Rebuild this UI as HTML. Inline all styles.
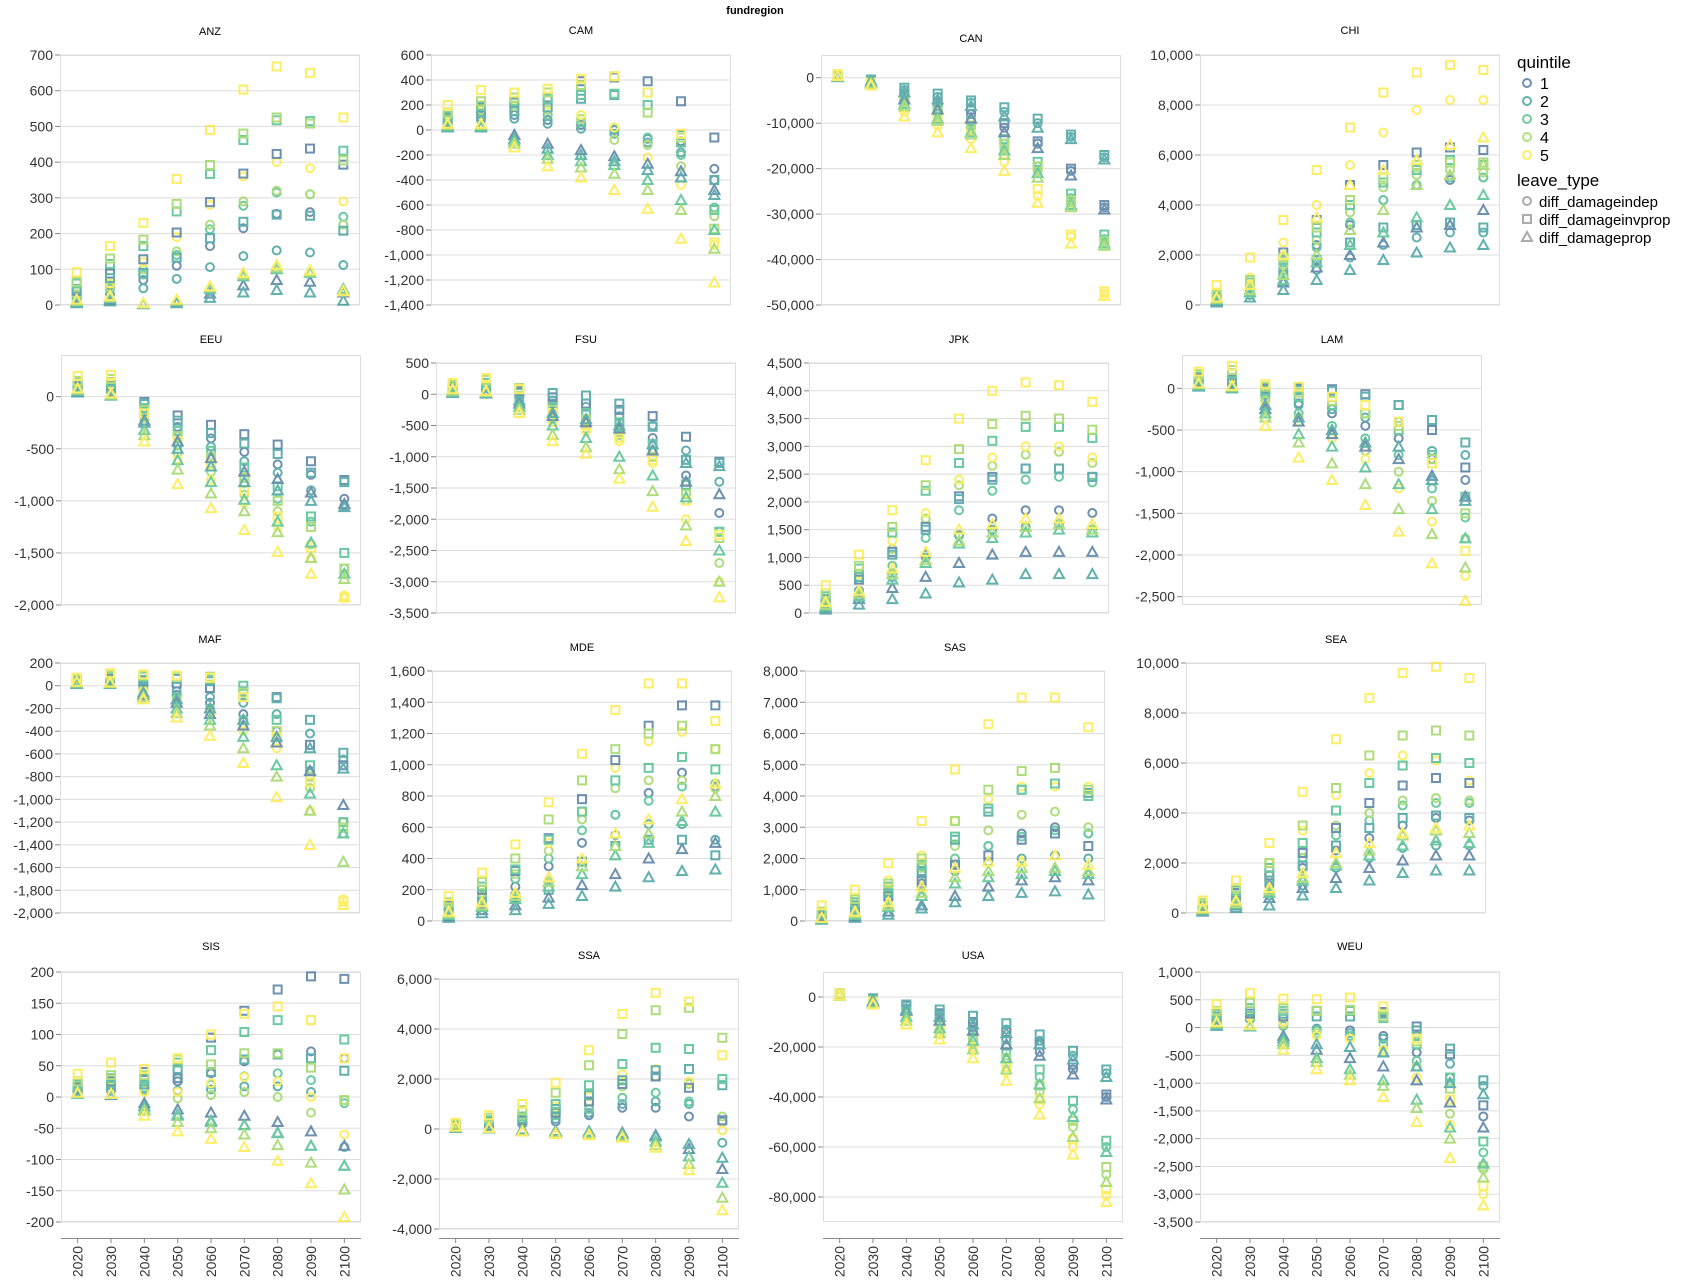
<!DOCTYPE html>
<html><head><meta charset="utf-8"><style>
html,body{margin:0;padding:0;background:#fff;}
svg{display:block;font-family:"Liberation Sans","DejaVu Sans",sans-serif;}
</style></head><body>
<svg id="chart" width="1686" height="1286" viewBox="0 0 1686 1286">
<text x="755" y="14" text-anchor="middle" font-size="11" font-weight="bold" fill="#000">fundregion</text>
<g id="panels"></g>
<g>
<text x="1517" y="68" font-size="17" fill="#000">quintile</text>
<g><circle cx="1527" cy="83" r="4" fill="none" stroke="#30638e" stroke-width="2" opacity="0.7"/><text x="1540" y="89" font-size="16" fill="#000">1</text></g>
<g><circle cx="1527" cy="101" r="4" fill="none" stroke="#21918c" stroke-width="2" opacity="0.7"/><text x="1540" y="107" font-size="16" fill="#000">2</text></g>
<g><circle cx="1527" cy="119" r="4" fill="none" stroke="#35b779" stroke-width="2" opacity="0.7"/><text x="1540" y="125" font-size="16" fill="#000">3</text></g>
<g><circle cx="1527" cy="137" r="4" fill="none" stroke="#90d743" stroke-width="2" opacity="0.7"/><text x="1540" y="143" font-size="16" fill="#000">4</text></g>
<g><circle cx="1527" cy="155" r="4" fill="none" stroke="#fde725" stroke-width="2" opacity="0.7"/><text x="1540" y="161" font-size="16" fill="#000">5</text></g>
<text x="1517" y="186" font-size="17" fill="#000">leave_type</text>
<g><circle cx="1527" cy="201" r="4" fill="none" stroke="#888" stroke-width="2" opacity="0.7"/><text x="1539" y="207" font-size="15" fill="#000">diff_damageindep</text></g>
<g><rect x="1523" y="215" width="8" height="8" fill="none" stroke="#888" stroke-width="2" opacity="0.7"/><text x="1539" y="225" font-size="15" fill="#000">diff_damageinvprop</text></g>
<g><path d="M1527,232 L1532,241 L1522,241 Z" fill="none" stroke="#888" stroke-width="2" opacity="0.7"/><text x="1539" y="243" font-size="15" fill="#000">diff_damageprop</text></g>
</g>
</svg>
<script>
const years = [2020,2030,2040,2050,2060,2070,2080,2090,2100];
const quintiles = [1,2,3,4,5];
const leaveTypes = ["diff_damageindep","diff_damageinvprop","diff_damageprop"];
const regions = ["ANZ","CAM","CAN","CHI","EEU","FSU","JPK","LAM","MAF","MDE","SAS","SEA","SIS","SSA","USA","WEU"];

const ANZ_indep=[[20,55,70,110,165,215,255,260,225],[15,30,47,73,106,137,153,147,112],[25,45,85,140,212,278,315,310,247],[30,50,100,150,225,290,320,310,225],[40,60,120,190,280,360,400,383,290]];
const ANZ_invprop=[[40,88,128,203,288,368,423,438,393],[45,75,90,133,187,233,253,250,208],[60,115,165,262,367,462,517,515,432],[65,130,183,283,392,480,525,508,405],[92,165,230,353,490,603,668,650,525]];
const ANZ_prop=[[8,15,3,10,32,55,70,65,35],[5,10,2,5,20,35,42,35,12],[10,20,5,12,45,80,100,90,45],[12,22,5,13,50,85,105,93,42],[15,25,5,15,52,90,112,97,38]];

const CAM_indep=[[60,100,120,80,40,0,-70,-90,-310],[40,80,90,50,10,-30,-100,-180,-400],[70,130,150,120,60,10,-60,-200,-620],[90,160,190,160,90,-80,-120,-290,-690],[120,200,230,200,120,20,-220,-440,-920]];
const CAM_invprop=[[100,180,220,260,390,420,390,230,-60],[80,130,150,180,250,280,300,-40,-400],[110,190,230,250,280,290,200,-100,-640],[140,230,260,300,360,430,140,-60,-790],[200,320,300,330,410,430,300,-30,-900]];
const CAM_prop=[[30,30,-40,-110,-160,-210,-270,-330,-480],[20,20,-70,-150,-200,-250,-320,-380,-520],[30,30,-90,-200,-250,-280,-400,-560,-800],[40,40,-110,-230,-300,-350,-480,-640,-950],[50,50,-140,-290,-380,-480,-630,-870,-1220]];

const CAN_indep=[[300,-900,-4200,-6200,-8000,-11000,-14500,-20500,-28500],[200,-500,-2700,-4200,-5500,-7500,-10000,-13000,-17500],[400,-1000,-5000,-8000,-10500,-14500,-19500,-26500,-35500],[400,-1100,-5500,-8500,-11500,-15500,-20500,-27500,-36500],[600,-1400,-7500,-10500,-13500,-18500,-26000,-35000,-47500]];
const CAN_invprop=[[400,-700,-3500,-5500,-7000,-10000,-14000,-20000,-28000],[300,-400,-2200,-3500,-5000,-6500,-9000,-12500,-17000],[500,-900,-4500,-7000,-9500,-13500,-18500,-25500,-34500],[600,-1000,-5000,-7500,-10500,-14500,-19500,-27000,-36000],[800,-1200,-6500,-9500,-12500,-17000,-24500,-34500,-47000]];
const CAN_prop=[[200,-1100,-4800,-7000,-9000,-12000,-15500,-21500,-29000],[100,-700,-3200,-4800,-6200,-8500,-11000,-13500,-18000],[300,-1200,-5800,-9000,-12000,-16000,-21000,-28000,-36500],[300,-1300,-6300,-9500,-12500,-17000,-22000,-28500,-37000],[400,-1700,-8500,-12000,-15500,-20500,-27500,-36500,-48000]];

const CHI_indep=[[200,700,1500,2400,3200,4200,4800,5000,5100],[150,400,900,1400,1900,2400,2700,2900,2900],[250,700,1400,2300,3300,4200,4800,5100,5100],[300,800,1600,2600,3700,4700,5200,5400,5300],[500,1100,2500,4000,5600,6900,7800,8200,8200]];
const CHI_invprop=[[300,1000,2100,3400,4800,5600,6100,6300,6200],[250,600,1200,1800,2500,3100,3200,3300,3100],[350,900,1800,2900,4000,4900,5400,5800,5600],[400,1000,1900,3100,4200,5100,5600,5700,5700],[800,1900,3400,5400,7100,8500,9300,9600,9400]];
const CHI_prop=[[150,500,900,1500,2000,2500,3100,3200,3800],[100,300,600,1000,1400,1800,2100,2300,2400],[200,500,1000,1700,2400,2900,3500,4000,4400],[250,600,1200,2000,3000,3800,4800,5200,5600],[300,800,2000,3500,4800,5400,5800,6400,6700]];

const EEU_indep=[[80,70,-110,-290,-400,-530,-650,-750,-980],[60,50,-150,-380,-480,-620,-730,-900,-1050],[100,80,-200,-470,-640,-830,-980,-1200,-1650],[110,100,-230,-540,-720,-940,-1100,-1420,-1700],[140,120,-270,-600,-800,-1020,-1250,-1550,-1910]];
const EEU_invprop=[[100,100,-50,-180,-270,-360,-460,-620,-800],[80,80,-70,-230,-350,-450,-550,-730,-820],[130,140,-110,-330,-520,-680,-860,-1150,-1500],[150,170,-130,-380,-580,-780,-1000,-1250,-1650],[200,210,-160,-430,-650,-900,-1150,-1450,-1930]];
const EEU_prop=[[50,20,-230,-430,-590,-720,-790,-920,-1030],[40,10,-250,-500,-670,-820,-900,-1000,-1060],[60,20,-320,-610,-820,-990,-1200,-1400,-1700],[70,20,-370,-700,-930,-1100,-1300,-1550,-1750],[80,30,-430,-840,-1070,-1280,-1490,-1700,-1920]];

const FSU_indep=[[50,50,-30,-150,-300,-450,-700,-1300,-1900],[40,40,-60,-100,-200,-350,-500,-900,-1400],[80,100,-100,-300,-450,-650,-900,-1400,-2200],[100,120,-150,-400,-550,-700,-1000,-1700,-2700],[130,150,-200,-450,-600,-750,-1100,-2000,-3000]];
const FSU_invprop=[[80,120,50,-50,-150,-250,-350,-680,-1080],[70,100,20,20,-20,-150,-520,-1050,-1100],[120,180,80,-200,-300,-450,-800,-1450,-2200],[150,230,100,-250,-400,-600,-1000,-1600,-2300],[180,260,80,-300,-500,-700,-1050,-1700,-2250]];
const FSU_prop=[[30,20,-150,-350,-450,-550,-900,-1400,-1600],[20,10,-100,-300,-400,-500,-800,-1100,-1150],[40,30,-200,-500,-700,-1000,-1300,-1650,-2500],[60,40,-250,-650,-850,-1200,-1550,-2100,-3000],[80,50,-300,-750,-950,-1350,-1800,-2350,-3250]];

const JPK_indep=[[150,400,700,1050,1400,1700,1850,1850,1800],[150,400,650,1000,1400,1500,1550,1600,1500],[220,600,850,1350,1850,2200,2400,2450,2350],[250,650,1150,1700,2300,2650,2850,2900,2700],[300,700,1300,1800,2400,2800,3000,3000,2800]];
const JPK_invprop=[[200,600,1100,1550,2100,2450,2600,2600,2450],[250,650,1050,1500,2050,2400,2600,2600,2450],[300,800,1450,2200,2700,3100,3350,3350,3150],[350,850,1550,2300,2950,3400,3550,3500,3300],[500,1050,1850,2750,3500,4000,4150,4100,3800]];
const JPK_prop=[[100,250,450,650,900,1050,1100,1100,1100],[60,150,250,350,550,600,700,700,700],[120,300,600,900,1250,1350,1450,1500,1450],[150,350,700,950,1300,1450,1550,1600,1500],[200,400,800,1100,1500,1600,1700,1700,1600]];

const LAM_indep=[[80,60,-80,-180,-300,-450,-600,-850,-1100],[60,40,-70,-200,-250,-350,-400,-750,-800],[100,80,-120,-300,-450,-600,-800,-1200,-1550],[120,100,-150,-350,-550,-750,-1000,-1350,-1800],[150,120,-200,-400,-600,-850,-1200,-1600,-2250]];
const LAM_invprop=[[120,100,0,0,-10,-70,-200,-500,-950],[100,80,-20,-20,-30,-100,-200,-380,-650],[140,180,-30,-100,-200,-300,-500,-800,-1300],[170,220,20,-50,-150,-300,-450,-850,-1500],[200,270,50,20,-100,-200,-400,-900,-1950]];
const LAM_prop=[[30,10,-250,-400,-550,-700,-850,-1050,-1300],[20,0,-200,-350,-500,-650,-700,-1100,-1350],[40,10,-300,-550,-700,-950,-1150,-1450,-1800],[50,20,-350,-650,-900,-1150,-1450,-1750,-2150],[60,30,-450,-830,-1100,-1400,-1720,-2100,-2550]];

const MAF_indep=[[30,40,-20,-80,-150,-250,-400,-750,-1200],[20,30,0,-50,-100,-150,-250,-420,-650],[40,50,-30,-100,-200,-300,-450,-800,-1300],[40,60,-40,-120,-230,-350,-500,-900,-1200],[50,70,-50,-150,-250,-400,-550,-1100,-1880]];
const MAF_invprop=[[40,60,40,20,-20,-100,-100,-520,-700],[30,50,50,60,40,-50,-110,-300,-590],[50,80,80,80,60,0,-300,-700,-1200],[60,90,90,80,80,-60,-400,-800,-1250],[70,110,100,90,70,-100,-450,-850,-1900]];
const MAF_prop=[[20,20,-80,-150,-250,-350,-500,-750,-1050],[15,15,-60,-120,-200,-300,-450,-550,-730],[25,20,-100,-200,-300,-450,-700,-950,-1300],[30,25,-100,-240,-350,-550,-800,-1100,-1550],[35,30,-120,-280,-440,-680,-980,-1400,-1930]];

const MDE_indep=[[70,150,220,350,500,680,820,950,860],[50,100,170,250,380,550,620,620,520],[80,160,270,400,580,680,770,860,880],[90,180,300,450,650,850,900,900,850],[100,200,330,500,700,980,1150,1210,1100]];
const MDE_invprop=[[100,200,320,530,780,1030,1250,1380,1380],[60,120,150,200,380,480,520,520,420],[110,220,330,520,700,900,980,1050,970],[120,250,400,650,900,1100,1200,1250,1100],[160,310,490,760,1070,1350,1520,1520,1280]];
const MDE_prop=[[30,70,100,150,230,300,400,460,500],[20,50,70,110,160,220,280,320,330],[40,90,140,220,300,420,500,640,700],[50,100,160,250,350,480,560,700,800],[60,120,180,280,400,560,650,780,880]];

const SAS_indep=[[130,350,700,1200,1800,2400,2800,3000,2800],[150,400,700,1100,1600,1900,2000,2100,2000],[200,500,900,1500,2000,2400,2700,2900,2800],[250,600,1000,1700,2400,2900,3400,3500,3000],[300,700,1300,2100,3200,3900,4300,4300,4300]];
const SAS_invprop=[[150,400,800,1300,1800,2100,2600,2800,2400],[200,500,900,1600,2600,3500,4200,4400,4100],[250,600,1100,1800,2700,3600,4200,4400,4000],[300,700,1200,2000,3200,4200,4800,4900,4200],[500,1000,1850,3200,4850,6300,7150,7150,6200]];
const SAS_prop=[[60,150,300,500,800,1100,1300,1400,1300],[40,100,200,400,600,800,900,950,850],[80,200,450,800,1200,1400,1500,1600,1500],[100,250,500,900,1400,1600,1700,1700,1600],[100,300,600,1100,1700,1900,1900,2100,1800]];

const SEA_indep=[[200,500,1100,1800,2500,3000,3500,3800,3700],[150,400,700,1100,1800,2200,2600,2700,2700],[250,600,1300,2200,3100,3700,4300,4400,4400],[300,700,1500,2500,3500,4000,4500,4600,4500],[400,900,2000,3300,4700,5600,6300,6100,5300]];
const SEA_invprop=[[250,800,1500,2400,3400,4400,5100,5400,5200],[250,700,1300,1900,2700,3400,3800,3900,3800],[300,900,1800,2800,4100,5200,5900,6200,6000],[400,1000,2000,3500,5000,6300,7100,7300,7100],[500,1300,2800,4850,6950,8600,9600,9850,9400]];
const SEA_prop=[[100,300,600,1000,1400,1800,2100,2300,2300],[50,200,300,700,1000,1300,1600,1700,1700],[150,350,800,1300,1900,2300,2700,2900,2800],[150,400,900,1400,2000,2500,3100,3300,3200],[200,500,1000,1600,2400,2800,3200,3400,3500]];

const SIS_indep=[[12,18,22,25,38,57,68,73,62],[8,10,12,10,12,17,17,8,-80],[15,22,15,30,20,33,38,27,-10],[18,25,10,-2,3,8,0,-25,-5],[22,28,8,8,22,32,25,0,-60]];
const SIS_invprop=[[15,25,40,30,95,138,172,193,189],[10,20,20,45,40,60,68,62,42],[20,30,30,55,75,104,123,123,92],[25,35,35,60,52,70,70,47,-5],[37,55,45,62,100,133,145,123,62]];
const SIS_prop=[[5,3,-10,-20,-25,-30,-40,-55,-78],[5,4,-15,-28,-38,-45,-57,-78,-110],[5,5,-20,-30,-40,-45,-58,-78,-110],[6,5,-22,-40,-50,-60,-77,-105,-148],[7,5,-30,-55,-67,-80,-102,-138,-192]];

const SSA_indep=[[80,100,200,300,550,850,850,500,300],[100,150,200,400,650,1000,1100,1000,-550],[120,200,300,550,800,1250,1450,1100,-50],[150,250,400,700,1100,1700,2100,1800,500],[200,350,500,900,1300,2200,2400,1900,-50]];
const SSA_invprop=[[150,250,350,650,1100,1800,2100,1650,350],[150,300,400,800,1350,1950,2350,2400,1750],[180,350,500,1000,1750,2600,3250,3200,2000],[200,450,750,1450,2550,3800,4750,4850,3650],[250,550,1000,1850,3150,4600,5450,5100,2950]];
const SSA_prop=[[40,20,-20,-80,-100,-150,-250,-800,-1600],[50,20,-40,-100,-100,-200,-300,-600,-1150],[60,30,-60,-120,-150,-250,-500,-1100,-2150],[80,40,-80,-150,-200,-300,-650,-1400,-2750],[100,50,-100,-200,-250,-350,-750,-1650,-3250]];

const USA_indep=[[1000,-1500,-5000,-8000,-12000,-17000,-22000,-29000,-40000],[1000,-1000,-4500,-7000,-10000,-13000,-17500,-23500,-30500],[1000,-2000,-7000,-11000,-16000,-22000,-32000,-45000,-60000],[1000,-2000,-8000,-13000,-19000,-26500,-38000,-52000,-71000],[1000,-2500,-9500,-15000,-21500,-30000,-43000,-60000,-79500]];
const USA_invprop=[[1500,-1000,-3500,-6500,-10000,-14000,-19000,-27000,-39000],[1500,-500,-3000,-5000,-7500,-10500,-15000,-21500,-29000],[1500,-1500,-6000,-9500,-14000,-19500,-29000,-41500,-57500],[1500,-1500,-7000,-11500,-17000,-24500,-35500,-49500,-68000],[1500,-2000,-8500,-13500,-20000,-28000,-41000,-57000,-77000]];
const USA_prop=[[500,-2000,-5500,-9500,-13500,-19000,-23500,-31000,-41000],[500,-1500,-5000,-8000,-11000,-14500,-19000,-25000,-32000],[500,-2500,-8000,-12500,-17500,-24500,-35000,-48000,-62000],[500,-2500,-9500,-14500,-21000,-29000,-40500,-56000,-74000],[500,-3000,-11000,-17000,-24500,-33500,-47000,-63000,-82000]];

const WEU_indep=[[100,150,100,-20,-50,-150,-450,-900,-1600],[150,150,30,-30,-100,-200,-150,-650,-1050],[200,180,50,-50,-150,-300,-600,-1000,-2250],[250,200,50,-100,-200,-450,-700,-1550,-2550],[300,200,100,-150,-200,-400,-900,-1750,-3000]];
const WEU_invprop=[[150,250,200,300,300,280,20,-480,-1400],[200,300,250,200,200,250,-50,-380,-950],[250,350,300,300,300,170,-300,-900,-2050],[300,450,350,300,320,200,-250,-1100,-2500],[420,620,520,510,540,380,-200,-1300,-2850]];
const WEU_prop=[[30,20,-150,-400,-550,-700,-950,-1350,-1800],[40,20,-200,-300,-350,-450,-700,-1000,-1200],[60,30,-250,-550,-750,-950,-1300,-1800,-2450],[80,40,-300,-620,-850,-1050,-1450,-2000,-2700],[100,50,-400,-750,-950,-1250,-1700,-2350,-3200]];

const seriesByRegion = {
 ANZ:[ANZ_indep,ANZ_invprop,ANZ_prop], CAM:[CAM_indep,CAM_invprop,CAM_prop], CAN:[CAN_indep,CAN_invprop,CAN_prop], CHI:[CHI_indep,CHI_invprop,CHI_prop],
 EEU:[EEU_indep,EEU_invprop,EEU_prop], FSU:[FSU_indep,FSU_invprop,FSU_prop], JPK:[JPK_indep,JPK_invprop,JPK_prop], LAM:[LAM_indep,LAM_invprop,LAM_prop],
 MAF:[MAF_indep,MAF_invprop,MAF_prop], MDE:[MDE_indep,MDE_invprop,MDE_prop], SAS:[SAS_indep,SAS_invprop,SAS_prop], SEA:[SEA_indep,SEA_invprop,SEA_prop],
 SIS:[SIS_indep,SIS_invprop,SIS_prop], SSA:[SSA_indep,SSA_invprop,SSA_prop], USA:[USA_indep,USA_invprop,USA_prop], WEU:[WEU_indep,WEU_invprop,WEU_prop]
};

const yDomains = {
 ANZ:[0,700,100], CAM:[-1400,600,200], CAN:[-50000,5000,10000], CHI:[0,10000,2000],
 EEU:[-2000,400,500], FSU:[-3500,500,500], JPK:[0,4500,500], LAM:[-2600,400,500],
 MAF:[-2000,200,200], MDE:[0,1600,200], SAS:[0,8000,1000], SEA:[0,10000,2000],
 SIS:[-200,200,50], SSA:[-4000,6000,2000], USA:[-90000,10000,20000], WEU:[-3500,1000,500]
};

const layout = {
 ANZ:[60,55,35], CAM:[431,55,34], CAN:[821,55,42], CHI:[1200,55,34],
 EEU:[61,355,343], FSU:[436,363,343], JPK:[809,363,343], LAM:[1182,355,343],
 MAF:[60,663,643], MDE:[432,671,651], SAS:[805,671,651], SEA:[1186,663,643],
 SIS:[61,972,950], SSA:[439,979,959], USA:[823,972,959], WEU:[1200,972,950]
};
const bottomRow = ["SIS","SSA","USA","WEU"];
const colors = ["#30638e","#21918c","#2fb47c","#8cd048","#fde725"];
const W = 300, H = 250, XAXIS_Y = 1238;
const NS = "http://www.w3.org/2000/svg";
const root = document.getElementById("panels");

function mk(tag, attrs, parent){
  const e = document.createElementNS(NS, tag);
  for (const k in attrs) e.setAttribute(k, attrs[k]);
  parent.appendChild(e);
  return e;
}
function fmt(v){
  const s = Math.abs(v).toString().replace(/\B(?=(\d{3})+(?!\d))/g, ",");
  return (v < 0 ? "-" : "") + s;
}
function xScale(left, i){ return left + (i + 0.5) * W / years.length; }
function yScaleFactory(top, dom){ return v => top + H - (v - dom[0]) / (dom[1] - dom[0]) * H; }

regions.forEach(function(rg){
  const L = layout[rg], dom = yDomains[rg];
  const left = L[0], top = L[1];
  const y = yScaleFactory(top, dom);
  const g = mk("g", {}, root);
  
  

  const title = mk("text", {x:left + W/2, y:L[2], "text-anchor":"middle", "font-size":"11", fill:"#000"}, g);
  title.textContent = rg;
  
  

  const yAxis = mk("g", {}, g);
  
  
  const first = Math.ceil(dom[0] / dom[2]) * dom[2];
  for (let v = first; v <= dom[1] + 1e-9; v += dom[2]) {
    const yy = y(v);
    const gl = mk("line", {x1:left, x2:left + W, y1:yy, y2:yy, stroke:"#ddd", "stroke-width":"1"}, yAxis);
    
    
    mk("line", {x1:left - 5, x2:left, y1:yy, y2:yy, stroke:"#888", "stroke-width":"1"}, yAxis);
    const t = mk("text", {x:left - 7, y:yy + 5, "text-anchor":"end", "font-size":"14", fill:"#333"}, yAxis);
    t.textContent = fmt(v);
    
    
  }
  const frame = mk("rect", {x:left + 0.5, y:top + 0.5, width:W - 1, height:H - 1, fill:"none", stroke:"#ddd", "stroke-width":"1"}, g);
  
  
  mk("line", {x1:left + 0.5, x2:left + 0.5, y1:top, y2:top + H, stroke:"#888", "stroke-width":"1"}, yAxis);

  const marks = mk("g", {fill:"none", "stroke-width":"2", opacity:"0.7"}, g);
  
  
  const sets = seriesByRegion[rg];
  for (let t = 0; t < leaveTypes.length; t++) {
    for (let q = 0; q < quintiles.length; q++) {
      const vals = sets[t][q];
      for (let i = 0; i < years.length; i++) {
        const cx = xScale(left, i), cy = y(vals[i]);
        let m;
        if (t === 0) m = mk("circle", {cx:cx, cy:cy, r:4, stroke:colors[q]}, marks);
        else if (t === 1) m = mk("rect", {x:cx - 4, y:cy - 4, width:8, height:8, stroke:colors[q]}, marks);
        else m = mk("path", {d:"M" + cx + "," + (cy - 5) + " L" + (cx + 5) + "," + (cy + 4) + " L" + (cx - 5) + "," + (cy + 4) + " Z", stroke:colors[q]}, marks);
        
        
      }
    }
  }

  if (bottomRow.indexOf(rg) >= 0) {
    const xa = mk("g", {}, g);
    
    
    mk("line", {x1:left, x2:left + W, y1:XAXIS_Y + 0.5, y2:XAXIS_Y + 0.5, stroke:"#888", "stroke-width":"1"}, xa);
    years.forEach(function(yr, i){
      const xx = xScale(left, i);
      mk("line", {x1:xx, x2:xx, y1:XAXIS_Y, y2:XAXIS_Y + 5, stroke:"#888", "stroke-width":"1"}, xa);
      const t = mk("text", {x:xx + 5, y:XAXIS_Y + 8, "text-anchor":"end", "font-size":"14", fill:"#333", transform:"rotate(-90 " + (xx + 5) + " " + (XAXIS_Y + 8) + ")"}, xa);
      t.textContent = yr;
      
      
    });
  }
});
</script>
</body></html>
